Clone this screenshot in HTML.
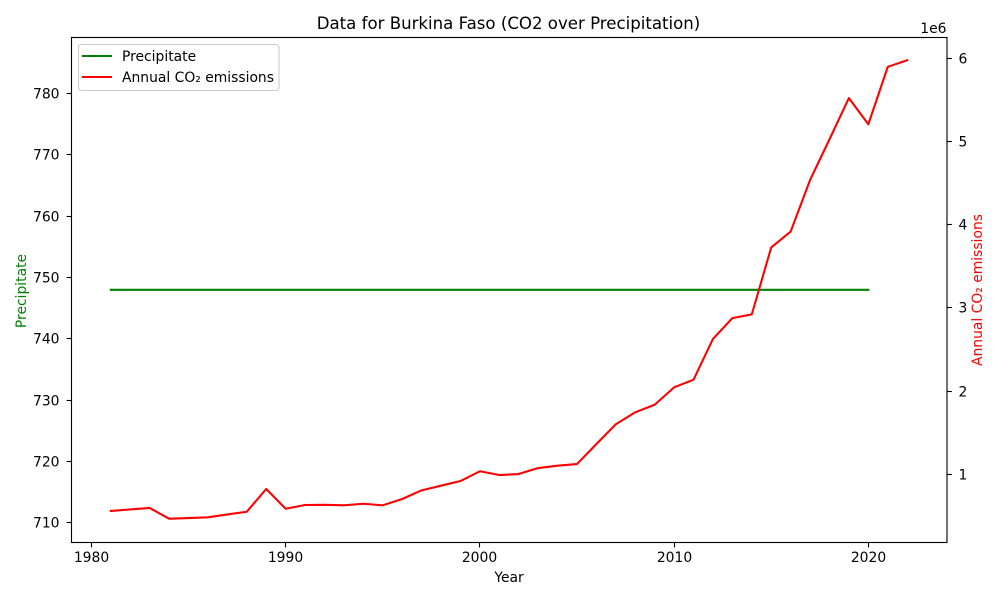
<!DOCTYPE html>
<html>
<head>
<meta charset="utf-8">
<title>Data for Burkina Faso</title>
<style>
html,body{margin:0;padding:0;background:#fff;}
svg{display:block;}
text{font-family:"DejaVu Sans",sans-serif;font-size:13.89px;fill:#000;}
</style>
</head>
<body>
<svg id="chart" width="1000" height="600" viewBox="0 0 1000 600" xmlns="http://www.w3.org/2000/svg">
  <rect x="0" y="0" width="1000" height="600" fill="#fff"/>
  <text x="508.5" y="29" text-anchor="middle" style="font-size:16.6px">Data for Burkina Faso (CO2 over Precipitation)</text>
  <g id="plot"></g>
  <rect x="71.5" y="37.5" width="875.5" height="505" fill="none" stroke="#000" stroke-width="1.11"/>
  <text x="509" y="582" text-anchor="middle" style="font-size:13.89px">Year</text>
  <text transform="translate(26,291) rotate(-90)" text-anchor="middle" style="font-size:13.89px;fill:#008000">Precipitate</text>
  <text transform="translate(982,290) rotate(-90)" text-anchor="middle" style="font-size:13.89px;fill:#ff0000">Annual CO₂ emissions</text>
  <text x="946.5" y="33" text-anchor="end">1e6</text>
  <g>
    <rect x="78.5" y="44.5" width="200.5" height="46" rx="3" ry="3" fill="#fff" fill-opacity="0.8" stroke="#cccccc" stroke-width="1.11"/>
    <line x1="82" y1="56" x2="112" y2="56" stroke="#008000" stroke-width="2.08"/>
    <text x="122" y="61">Precipitate</text>
    <line x1="82" y1="77" x2="112" y2="77" stroke="#ff0000" stroke-width="2.08"/>
    <text x="122" y="82">Annual CO₂ emissions</text>
  </g>
</svg>
<script>
const years = [1981,1982,1983,1984,1985,1986,1987,1988,1989,1990,1991,1992,1993,1994,1995,1996,1997,1998,1999,2000,2001,2002,2003,2004,2005,2006,2007,2008,2009,2010,2011,2012,2013,2014,2015,2016,2017,2018,2019,2020,2021,2022];
const co2Emissions = [552000,570000,588000,459000,467000,476000,510000,543000,816000,579000,624000,626000,620000,639000,620000,696000,800000,856000,912000,1029000,984000,996000,1068000,1096000,1116000,1357000,1594000,1738000,1829000,2038000,2130000,2620000,2870000,2915000,3720000,3910000,4530000,5020000,5515000,5200000,5890000,5970000];
const precipYears = [1981,1982,1983,1984,1985,1986,1987,1988,1989,1990,1991,1992,1993,1994,1995,1996,1997,1998,1999,2000,2001,2002,2003,2004,2005,2006,2007,2008,2009,2010,2011,2012,2013,2014,2015,2016,2017,2018,2019,2020];
const precipitation = [747.9,747.9,747.9,747.9,747.9,747.9,747.9,747.9,747.9,747.9,747.9,747.9,747.9,747.9,747.9,747.9,747.9,747.9,747.9,747.9,747.9,747.9,747.9,747.9,747.9,747.9,747.9,747.9,747.9,747.9,747.9,747.9,747.9,747.9,747.9,747.9,747.9,747.9,747.9,747.9];
const xTicks = [1980,1990,2000,2010,2020];
const leftTicks = [710,720,730,740,750,760,770,780];
const rightTicks = [1000000,2000000,3000000,4000000,5000000,6000000];
const rightTickLabels = ["1","2","3","4","5","6"];

const SVGNS = "http://www.w3.org/2000/svg";
const plot = document.getElementById("plot");
const box = {l:71, r:947, t:37.5, b:542.5};
const xDomain = [1978.95, 2024.05];
const leftDomain = [706.7, 789.05];
const rightDomain = [173000, 6243000];

function xScale(v){ return box.l + (v - xDomain[0]) / (xDomain[1] - xDomain[0]) * (box.r - box.l); }
function yLeft(v){ return box.b - (v - leftDomain[0]) / (leftDomain[1] - leftDomain[0]) * (box.b - box.t); }
function yRight(v){ return box.b - (v - rightDomain[0]) / (rightDomain[1] - rightDomain[0]) * (box.b - box.t); }
function make(tag, attrs, content){
  const el = document.createElementNS(SVGNS, tag);
  for (const k in attrs) el.setAttribute(k, attrs[k]);
  if (content !== undefined) el.textContent = content;
  plot.appendChild(el);
  return el;
}
function polyPoints(xs, ys, yFn){
  return xs.map((x, i) => xScale(x).toFixed(2) + "," + yFn(ys[i]).toFixed(2)).join(" ");
}

xTicks.forEach(function(t){
  const x = Math.floor(xScale(t)) + 0.5;
  const tick = make("line", {x1:x, y1:542.5, x2:x, y2:547.4, stroke:"#000", "stroke-width":1.11});
  
  
  const label = make("text", {x:x, y:562, "text-anchor":"middle"}, String(t));
  
  
});
leftTicks.forEach(function(t){
  const y = Math.round(yLeft(t)) + 0.5;
  const tick = make("line", {x1:66.6, y1:y, x2:71.5, y2:y, stroke:"#000", "stroke-width":1.11});
  
  
  const label = make("text", {x:59.5, y:y + 5, "text-anchor":"end"}, String(t));
  
  
});
rightTicks.forEach(function(t, i){
  const y = Math.round(yRight(t)) + 0.5;
  const tick = make("line", {x1:947, y1:y, x2:951.9, y2:y, stroke:"#000", "stroke-width":1.11});
  
  
  const label = make("text", {x:958.5, y:y + 5}, rightTickLabels[i]);
  
  
});

const precipLine = make("polyline", {points:polyPoints(precipYears, precipitation, yLeft), fill:"none", stroke:"#008000", "stroke-width":2.08, "stroke-linecap":"square", "stroke-linejoin":"round"});



const co2Line = make("polyline", {points:polyPoints(years, co2Emissions, yRight), fill:"none", stroke:"#ff0000", "stroke-width":2.08, "stroke-linecap":"square", "stroke-linejoin":"round"});


</script>
</body>
</html>
